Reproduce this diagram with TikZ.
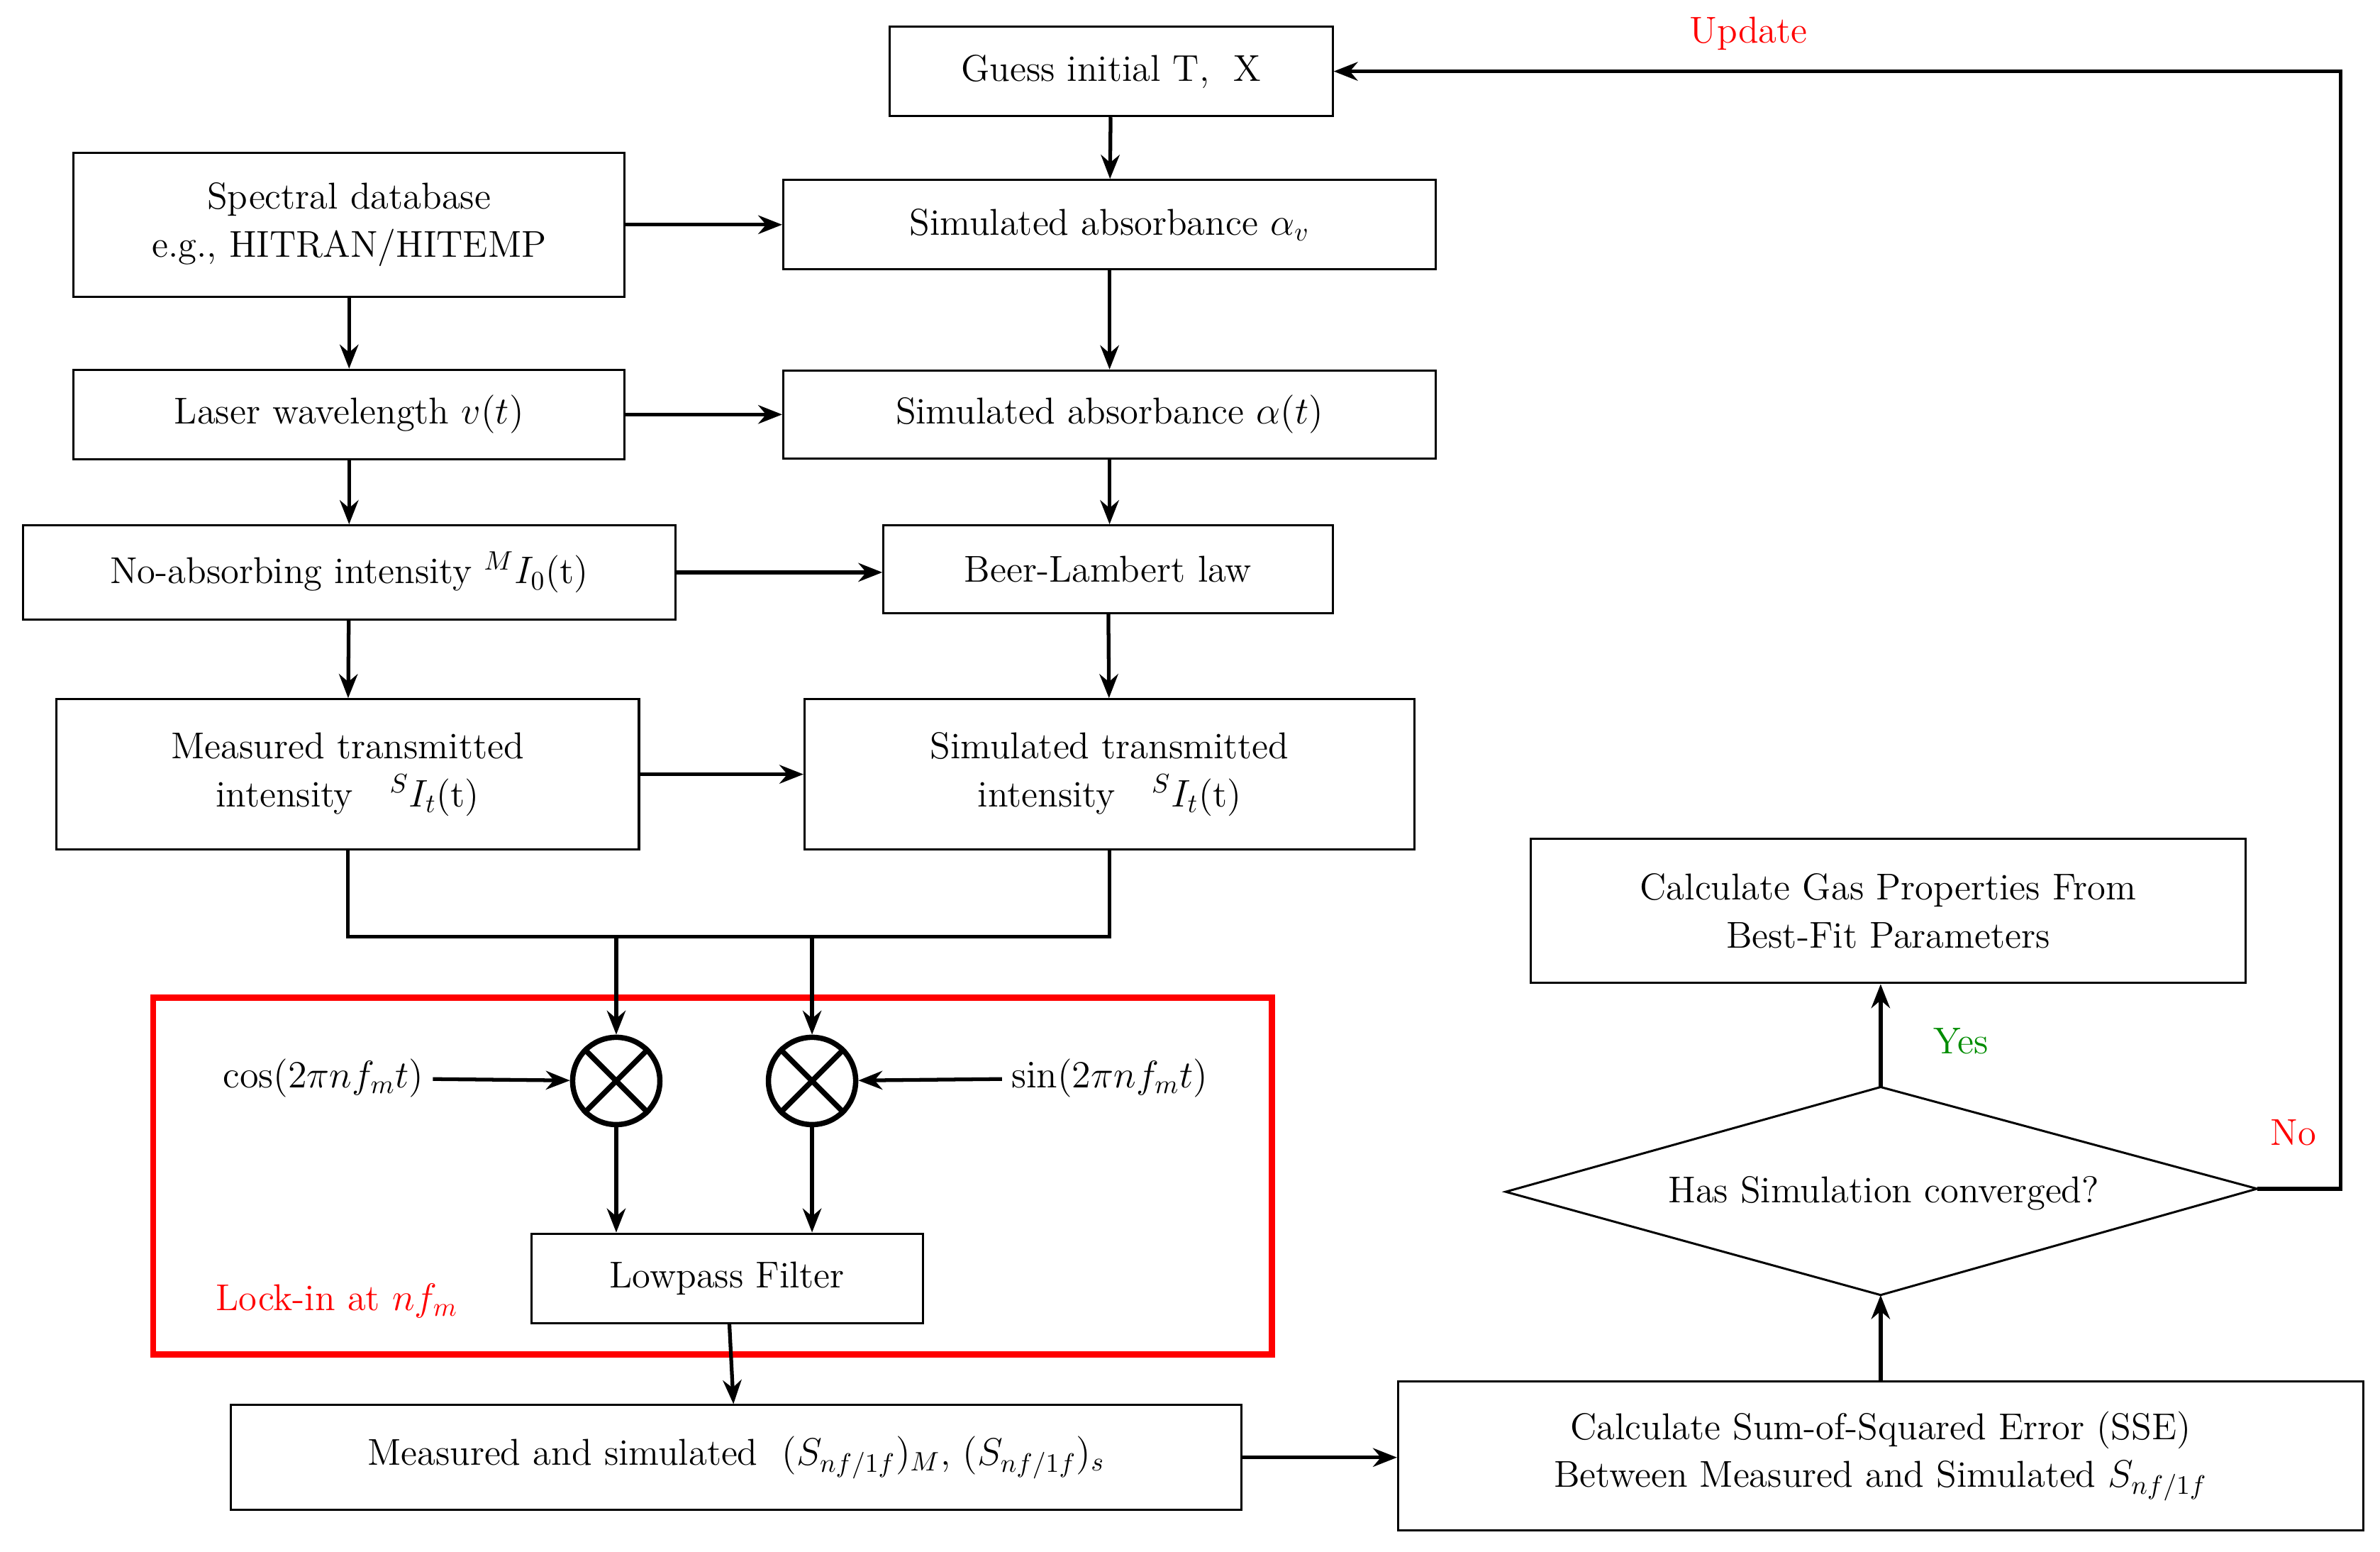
\documentclass[tikz,border=0pt]{standalone}
\usetikzlibrary{arrows.meta}
\begin{document}
\begin{tikzpicture}[x=0.02cm,y=-0.02cm,
  every node/.style={font=\fontsize{14}{18}\selectfont},
  box/.style={draw,line width=0.8pt,align=center,inner sep=0pt},
  arr/.style={line width=1.4pt,-{Stealth[length=9pt,width=7pt]}},
  ln/.style={line width=1.4pt},
  otim/.style={circle,draw,line width=2pt,minimum size=1.15cm,inner sep=0pt}]
\useasboundingbox (0,0) rectangle (1568,1022);
\node[box,minimum width=5.84cm,minimum height=1.18cm] (guess) at (732,47) {Guess initial T,\ \ X};
\node[box,minimum width=7.26cm,minimum height=1.9cm] (spec) at (230,148) {Spectral database\\e.g., HITRAN/HITEMP};
\node[box,minimum width=8.6cm,minimum height=1.18cm] (av) at (731,148) {Simulated absorbance $\alpha_v$};
\node[box,minimum width=7.26cm,minimum height=1.18cm] (laser) at (230,273) {Laser wavelength $v(t)$};
\node[box,minimum width=8.6cm,minimum height=1.16cm] (at) at (731,273) {Simulated absorbance $\alpha(t)$};
\node[box,minimum width=8.6cm,minimum height=1.24cm] (noabs) at (230,377) {No-absorbing intensity ${}^{M}I_0$(t)};
\node[box,minimum width=5.92cm,minimum height=1.16cm] (beer) at (730,375) {Beer-Lambert law};
\node[box,minimum width=7.68cm,minimum height=1.98cm] (meas) at (229,510) {Measured transmitted\\intensity\ \ \ ${}^{S}I_t$(t)};
\node[box,minimum width=8.04cm,minimum height=1.98cm] (sim) at (731,510) {Simulated transmitted\\intensity\ \ \ ${}^{S}I_t$(t)};
\draw[red,line width=2.3pt] (101,657) rectangle (838,892);
\node[otim] (o1) at (406,712) {};
\node[otim] (o2) at (535,712) {};
\foreach \o in {o1,o2}{\draw[line width=2pt] (\o.north east)--(\o.south west) (\o.north west)--(\o.south east);}
\node (cos) at (213,710) {$\cos(2\pi n f_m t)$};
\node (sin) at (731,710) {$\sin(2\pi n f_m t)$};
\node[box,minimum width=5.16cm,minimum height=1.18cm] (lp) at (479,842) {Lowpass Filter};
\node[red] (lock) at (222,857) {Lock-in at $nf_m$};
\node[box,minimum width=13.32cm,minimum height=1.38cm] (ms) at (485,960) {Measured and simulated\ \ $(S_{nf/1f})_{M}$, $(S_{nf/1f})_{s}$};
\node[box,minimum width=12.72cm,minimum height=1.96cm] (sse) at (1239,959) {Calculate Sum-of-Squared Error (SSE)\\Between Measured and Simulated $S_{nf/1f}$};
\coordinate (dt) at (1239,716); \coordinate (db) at (1239,853);
\coordinate (dl) at (992,785); \coordinate (dr) at (1487,783);
\draw[line width=0.8pt] (dt)--(dr)--(db)--(dl)--cycle;
\node (dtext) at (1241,786) {Has Simulation converged?};
\node[box,minimum width=9.42cm,minimum height=1.9cm] (gas) at (1244,600) {Calculate Gas Properties From\\Best-Fit Parameters};
\node[text=green!55!black] (yes) at (1292,686) {Yes};
\node[red] (no) at (1511,746) {No};
\node[red] (upd) at (1152,22) {Update};
% arrows
\draw[arr] (guess) -- (av);
\draw[arr] (av) -- (at);
\draw[arr] (at.south) -- (beer.north-|at.south);
\draw[arr] (beer) -- (sim);
\draw[arr] (spec) -- (laser);
\draw[arr] (laser) -- (noabs);
\draw[arr] (noabs) -- (meas);
\draw[arr] (spec) -- (av);
\draw[arr] (laser.east) -- (at.west|-laser.east);
\draw[arr] (noabs.east) -- (beer.west|-noabs.east);
\draw[arr] (meas) -- (sim);
\coordinate (j1) at (406,617); \coordinate (j2) at (535,617);
\draw[ln] (meas.south) |- (j1) -- (j2) -| (sim.south);
\draw[arr] (j1) -- (o1);
\draw[arr] (j2) -- (o2);
\draw[arr] (cos) -- (o1);
\draw[arr] (sin) -- (o2);
\draw[arr] (o1) -- (o1|-lp.north);
\draw[arr] (o2) -- (o2|-lp.north);
\draw[arr] (lp) -- (ms);
\draw[arr] (ms) -- (sse.west|-ms.east);
\draw[arr] (sse.north-|db) -- (db);
\draw[arr] (dt) -- (gas.south-|dt);
\coordinate (c1) at (1542,783); \coordinate (c2) at (1542,47);
\draw[arr] (dr) -- (c1) -- (c2) -- (guess.east);
\end{tikzpicture}
\end{document}
